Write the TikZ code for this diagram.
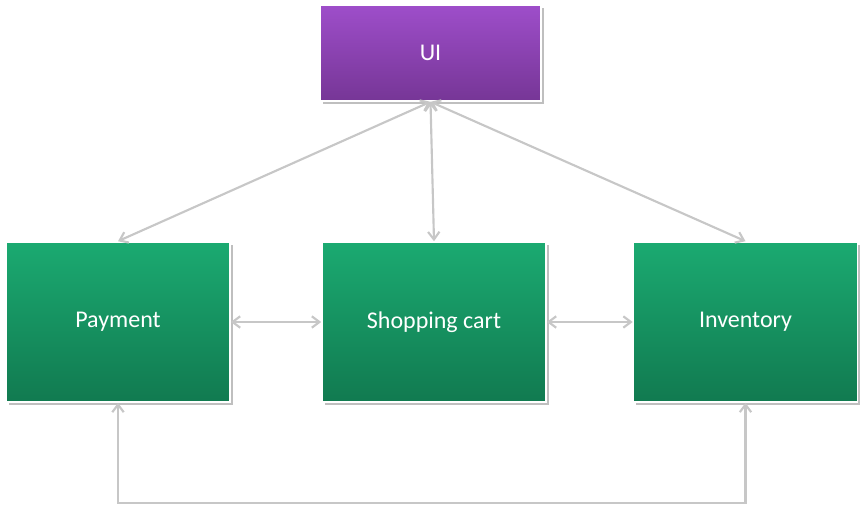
\documentclass[tikz,border=0pt]{standalone}
\usepackage{fontspec}
\setmainfont{Carlito}
\usetikzlibrary{positioning,arrows.meta,shadows}
\definecolor{gtop}{RGB}{27,170,113}
\definecolor{gbot}{RGB}{17,122,80}
\definecolor{ptop}{RGB}{158,78,202}
\definecolor{pbot}{RGB}{118,54,150}
\begin{document}
\begin{tikzpicture}[x=0.75pt, y=-0.75pt,
  box/.style={rectangle, draw=white, line width=1.2pt, minimum width=224*0.75pt, minimum height=160*0.75pt,
    top color=gtop, bottom color=gbot, text=white, font=\fontsize{18}{21}\selectfont,
    drop shadow={shadow xshift=2pt, shadow yshift=-2pt, opacity=0.5}},
  uibox/.style={box, minimum width=221*0.75pt, minimum height=96*0.75pt, top color=ptop, bottom color=pbot},
  arr/.style={{Straight Barb[length=2mm, width=3mm]}-{Straight Barb[length=2mm, width=3mm]}, draw=black!22, line width=1.6pt}]
\useasboundingbox (0,0) rectangle (863,514);
\node[uibox] (ui) at (430.5,53) {UI};
\node[box] (pay) at (118,322) {Payment};
\node[box] (cart) at (434,322) {Shopping cart};
\node[box] (inv) at (745.5,322) {Inventory};
\draw[arr] (ui.south) -- (pay.north);
\draw[arr] (ui.south) -- (cart.north);
\draw[arr] (ui.south) -- (inv.north);
\draw[arr] (pay) -- (cart);
\draw[arr] (cart) -- (inv);
\draw[arr] (pay.south) -- ++(0,100) -| (inv.south);
\end{tikzpicture}
\end{document}
